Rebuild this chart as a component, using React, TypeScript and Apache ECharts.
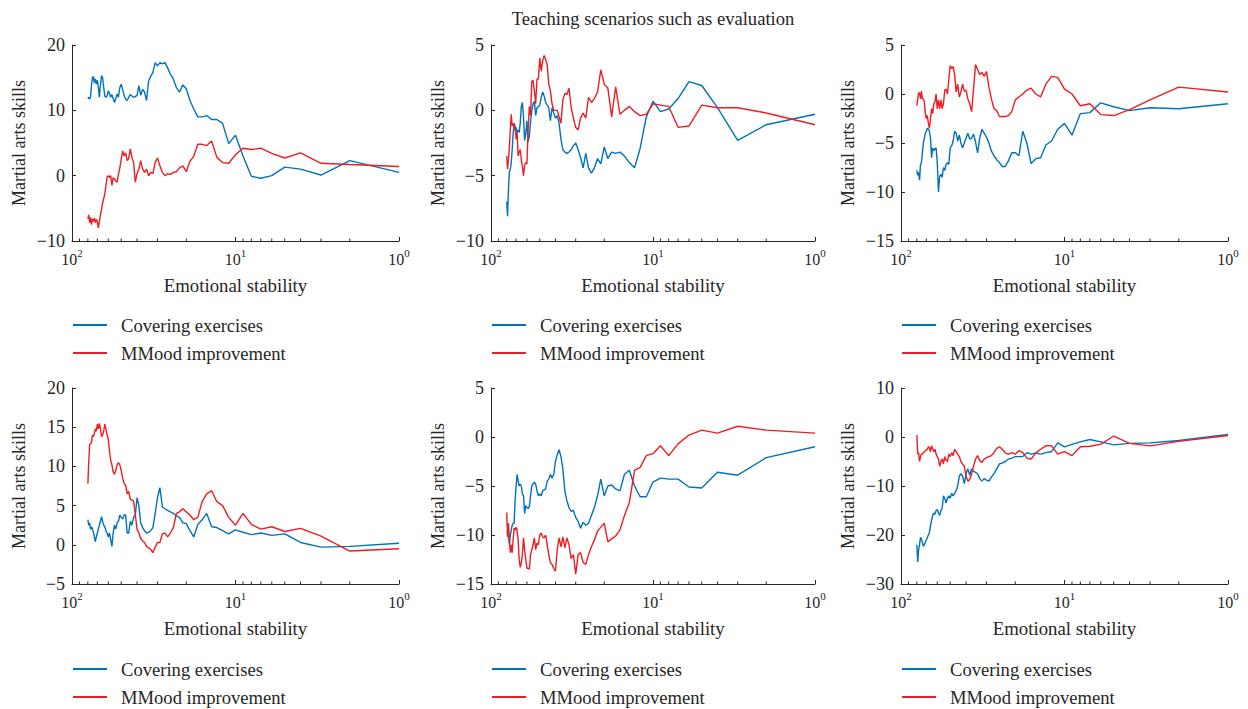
import React, { useEffect, useRef } from "react";
import * as echarts from "echarts";

const xValues = [
  80, 79, 78, 77, 76, 75, 74, 73, 72, 71,
  70, 69, 68, 67, 66, 65, 64, 63, 62, 61,
  60, 59, 58, 57, 56, 55, 54, 53, 52, 51,
  50, 49, 48, 47, 46, 45, 44, 43, 42, 41,
  40, 39, 38, 37, 36, 35, 34, 33, 32, 31,
  30, 29, 28, 27, 26, 25, 24, 23, 22, 21,
  20, 19, 18, 17, 16, 15, 14, 13, 12, 11,
  10, 9, 8, 7, 6, 5, 4, 3, 2, 1,
];

const blue1 = [
  11.8, 12.0, 11.7, 12.1, 13.8, 15.0, 15.2, 14.2, 14.8, 14.0,
  14.6, 13.5, 12.0, 13.8, 15.3, 15.0, 13.5, 12.2, 12.0, 12.2,
  13.0, 12.6, 12.0, 12.4, 11.8, 11.2, 11.8, 12.5, 12.0, 13.5,
  14.0, 13.2, 12.3, 11.7, 11.5, 12.0, 12.4, 12.2, 12.0, 12.1,
  12.3, 13.8, 12.3, 13.2, 12.8, 11.5, 14.5, 15.2, 15.8, 17.3,
  16.8, 17.3, 17.1, 17.3, 16.5, 15.5, 14.8, 13.5, 12.8, 13.9,
  13.3, 11.5, 10.2, 9.0, 9.0, 9.2, 8.6, 8.6, 8.0, 4.9,
  6.2, 3.0, -0.1, -0.4, 0.0, 1.3, 1.0, 0.1, 2.3, 0.5,
];
const red1 = [
  -6.6, -6.0, -7.2, -6.4, -7.5, -6.6, -7.0, -6.5, -7.2, -6.7,
  -7.0, -8.0, -7.0, -6.0, -5.2, -4.2, -3.5, -2.8, -1.5, -0.2,
  0.0, -0.3, 0.0, -1.5, -0.3, -0.5, -0.8, -1.0, 0.2, 1.2,
  2.5, 3.8, 3.0, 3.5, 2.3, 2.6, 4.1, 2.8, 2.0, -1.0,
  0.3, 1.0, 2.3, 1.0, 0.5, 1.0, 0.0, 0.5, 0.3, 2.0,
  2.7, 1.5, 0.5, 0.0, 0.3, 0.2, 0.5, 0.6, 1.2, 1.5,
  0.6, 2.2, 3.0, 4.8, 4.8, 4.6, 5.3, 2.8, 2.0, 1.9,
  3.2, 4.2, 4.0, 4.2, 3.4, 2.7, 3.5, 1.9, 1.7, 1.4,
];

const blue2 = [
  -7.0, -8.1, -6.0, -4.7, -4.5, -4.0, -3.0, -1.8, -1.0, -1.5,
  -1.3, -1.7, -1.5, -1.7, -1.0, 0.3, 0.6, -0.5, -2.3, -1.8,
  -0.8, -2.4, -2.0, -0.9, 0.0, 0.5, 0.7, -0.4, 0.2, 0.3,
  0.4, 1.0, 1.4, 1.1, 0.6, 0.4, 0.2, -0.8, 0.2, -0.2,
  -0.6, -0.4, -1.0, -2.2, -3.0, -3.2, -3.3, -3.2, -3.0, -2.7,
  -2.5, -3.0, -3.6, -4.4, -3.3, -4.4, -4.8, -4.4, -3.7, -4.1,
  -2.8, -3.7, -3.2, -3.3, -3.2, -3.5, -4.0, -4.4, -2.9, -0.5,
  0.7, -0.1, 0.1, 0.9, 2.2, 1.9, 0.2, -2.3, -1.1, -0.3,
];
const red2 = [
  -3.5, -4.5, -3.8, -2.8, -1.5, -0.3, -1.2, -1.1, -1.0, -1.2,
  -2.2, -1.7, -3.5, -3.2, -3.0, -3.8, -4.3, -5.0, -4.2, -4.0,
  -4.1, -1.5, 0.3, -0.4, 2.2, 2.3, 1.5, 0.5, 2.4, 2.4,
  4.0, 3.0, 3.8, 4.2, 3.9, 3.5, 2.0, 1.5, 0.5, 0.0,
  0.0, 0.0, -0.5, -1.0, 0.8, 1.3, 1.2, 1.7, 0.2, -0.6,
  -1.3, -1.5, -0.6, -0.2, -0.6, 1.0, 0.6, 0.9, 1.4, 3.1,
  2.0, 1.7, -0.5, 1.8, -0.3, 0.0, 0.3, -0.1, -0.4, -0.3,
  0.5, 0.4, 0.3, -1.3, -1.2, 0.4, 0.2, 0.2, -0.2, -1.1,
];

const blue3 = [
  -7.8, -8.3, -8.0, -8.8, -7.2, -7.0, -6.0, -5.0, -4.5, -4.0,
  -3.8, -3.5, -3.6, -3.8, -4.5, -6.5, -5.5, -5.8, -5.6, -5.5,
  -7.0, -10.0, -8.4, -8.2, -8.5, -7.5, -7.8, -7.2, -7.0, -7.2,
  -5.5, -5.3, -4.8, -3.8, -4.0, -4.8, -4.2, -5.0, -5.5, -5.0,
  -4.5, -4.0, -4.6, -4.5, -4.1, -4.9, -6.0, -4.5, -3.6, -4.0,
  -4.4, -5.0, -5.8, -6.3, -6.7, -7.0, -7.4, -7.4, -6.8, -6.0,
  -6.0, -6.3, -3.8, -5.0, -7.1, -6.6, -6.5, -5.2, -4.8, -3.6,
  -3.0, -4.2, -2.0, -1.9, -0.9, -1.3, -1.7, -1.4, -1.5, -1.0,
];
const red3 = [
  -1.2, -0.5, 0.1, 0.1, -0.5, 0.3, -0.5, -0.5, -0.8, -2.0,
  -2.5, -2.2, -3.0, -3.5, -2.5, -1.5, -2.0, -1.0, -0.8, 0.0,
  -1.5, -0.6, -1.5, -0.6, -1.5, -1.0, 0.4, 0.5, 0.0, 1.5,
  2.9, 2.6, 2.8, 2.0, 0.2, 1.0, -0.3, 0.2, 1.0, 0.3,
  0.4, -0.5, -1.0, -1.8, 0.5, 3.0, 2.5, 2.0, 2.2, 1.8,
  2.3, 0.7, -0.5, -1.5, -1.7, -2.3, -2.3, -2.3, -2.2, -1.8,
  -0.6, -0.3, 0.0, 0.4, 0.6, 0.0, -0.3, 1.0, 1.8, 1.7,
  0.5, 0.0, -1.2, -1.0, -2.1, -2.2, -1.6, -0.6, 0.7, 0.2,
];

const blue4 = [
  3.2, 2.5, 2.8, 2.0, 2.3, 2.0, 1.6, 1.0, 0.4, 1.0,
  1.5, 2.0, 2.5, 3.0, 3.6, 3.0, 2.5, 2.3, 1.8, 1.5,
  1.0, 1.5, 0.7, -0.2, 1.5, 2.5, 2.0, 2.8, 3.0, 3.8,
  3.5, 3.3, 3.8, 3.8, 1.5, 1.5, 3.0, 2.5, 3.5, 3.8,
  6.0, 5.0, 2.8, 2.2, 1.8, 1.5, 1.6, 1.8, 2.2, 4.0,
  6.0, 7.3, 4.8, 4.6, 4.4, 4.2, 4.0, 3.7, 3.5, 2.8,
  2.7, 1.8, 1.0, 2.6, 3.2, 4.0, 2.3, 2.2, 1.8, 1.4,
  1.9, 1.6, 1.3, 1.5, 1.2, 1.4, 0.3, -0.3, -0.2, 0.2,
];
const red4 = [
  7.8, 10.5, 12.8, 12.9, 13.0, 14.0, 13.8, 14.2, 14.8, 14.5,
  15.4, 14.8, 15.5, 14.8, 13.8, 14.0, 14.5, 15.4, 14.8, 14.0,
  13.5, 12.0, 10.8, 10.2, 9.3, 9.0, 9.5, 10.2, 10.5, 10.2,
  9.5, 8.5, 7.8, 7.6, 6.5, 6.8, 5.8, 5.7, 5.6, 3.8,
  2.0, 1.5, 0.8, 0.5, 0.3, -0.2, -0.4, -0.6, -1.0, -0.3,
  0.3, 0.3, 1.4, 1.5, 1.0, 1.5, 2.2, 4.0, 4.2, 4.6,
  4.2, 3.8, 3.2, 3.5, 5.5, 6.5, 6.9, 5.5, 5.0, 3.5,
  2.5, 4.0, 2.6, 2.0, 2.3, 1.7, 2.1, 1.1, -0.8, -0.5,
];

const blue5 = [
  -9.7, -9.8, -10.0, -11.0, -10.0, -9.5, -9.0, -8.8, -8.8, -6.5,
  -5.0, -3.8, -4.5, -5.0, -4.8, -5.0, -5.8, -6.0, -7.8, -7.0,
  -7.2, -7.3, -7.1, -6.0, -5.0, -4.8, -4.6, -4.8, -5.5, -6.0,
  -5.8, -6.0, -5.5, -5.4, -5.3, -4.5, -4.3, -3.8, -4.2, -3.8,
  -2.5, -1.8, -1.3, -2.0, -3.3, -5.5, -6.5, -7.2, -7.6, -7.5,
  -8.2, -8.6, -9.3, -8.7, -9.0, -8.8, -8.0, -7.2, -6.0, -4.3,
  -6.0, -5.0, -4.9, -5.3, -5.5, -3.8, -3.4, -5.0, -6.1, -6.1,
  -4.6, -4.2, -4.3, -4.3, -5.1, -5.2, -3.6, -3.9, -2.1, -1.0,
];
const red5 = [
  -7.7, -10.2, -8.8, -10.5, -11.8, -11.0, -11.8, -10.5, -9.3, -9.5,
  -9.2, -9.5, -10.5, -12.5, -13.3, -12.8, -12.0, -10.3, -11.5, -12.5,
  -13.4, -13.4, -13.5, -12.0, -11.5, -11.0, -10.3, -11.5, -10.8, -11.0,
  -10.0, -9.8, -10.2, -10.3, -10.0, -11.0, -12.0, -12.8, -13.0, -13.4,
  -13.7, -11.5, -10.3, -11.2, -10.2, -11.3, -10.3, -11.0, -12.4, -12.0,
  -14.0, -12.0, -11.8, -12.8, -13.0, -12.0, -11.2, -10.5, -9.6, -9.2,
  -8.8, -10.7, -10.4, -10.1, -9.5, -8.0, -6.7, -3.4, -3.1, -1.9,
  -1.7, -0.9, -1.9, -0.7, 0.2, 0.7, 0.4, 1.1, 0.7, 0.4,
];

const blue6 = [
  -22.0, -25.5, -23.0, -22.0, -20.5, -20.8, -21.5, -22.3, -22.0, -21.5,
  -21.0, -20.5, -20.0, -19.5, -18.0, -17.0, -16.0, -15.5, -15.8, -15.0,
  -14.8, -15.5, -16.0, -15.0, -14.5, -12.0, -12.5, -13.5, -12.5, -12.0,
  -12.5, -11.5, -12.0, -11.5, -11.0, -10.0, -8.0, -7.5, -8.0, -9.5,
  -7.5, -6.5, -7.8, -6.5, -7.0, -7.2, -7.5, -8.5, -9.0, -8.5,
  -8.8, -9.0, -8.2, -7.5, -6.5, -5.5, -5.3, -5.0, -4.5, -4.3,
  -4.0, -4.0, -4.0, -3.2, -3.5, -3.3, -3.5, -3.2, -3.0, -1.2,
  -2.0, -1.5, -1.0, -0.5, -1.0, -1.6, -1.3, -1.2, -0.7, 0.5,
];
const red6 = [
  0.4, -3.5, -3.2, -5.0, -4.0, -3.5, -3.5, -3.2, -3.0, -2.8,
  -2.7, -2.5, -2.0, -2.2, -3.0, -1.8, -2.5, -3.0, -2.5, -3.5,
  -4.0, -4.5, -6.0, -5.0, -4.5, -5.5, -4.0, -4.8, -5.0, -3.5,
  -4.0, -3.2, -3.8, -2.5, -3.0, -3.5, -4.0, -5.0, -5.5, -6.0,
  -8.0, -9.0, -8.7, -7.5, -6.0, -4.5, -3.8, -4.8, -5.2, -4.5,
  -4.2, -4.0, -3.8, -3.2, -2.3, -2.0, -2.5, -3.3, -3.5, -3.2,
  -3.5, -2.8, -3.2, -4.3, -4.5, -3.3, -2.5, -1.8, -1.8, -3.5,
  -3.0, -3.8, -2.0, -1.9, -1.5, 0.2, -1.3, -1.8, -0.9, 0.3,
];

const blueSeries = [blue1, blue2, blue3, blue4, blue5, blue6];
const redSeries = [red1, red2, red3, red4, red5, red6];

const yMins = [-10, -10, -15, -5, -15, -30];
const yMaxs = [20, 5, 5, 20, 5, 10];
const yIntervals = [10, 5, 5, 5, 5, 10];
const minorTickValues = [90, 80, 70, 60, 50, 40, 30, 20, 9, 8, 7, 6, 5, 4, 3, 2];

const seriesNames = ["Covering exercises", "MMood improvement"];
const titleText = "Teaching scenarios such as evaluation";
const xName = "Emotional stability";
const yName = "Martial arts skills";

const BLUE = "#0072BD";
const RED = "#EE1D23";
const INK = "#262626";
const FONT = "'Liberation Serif', 'Times New Roman', serif";

const grids = [
  { left: 72, top: 45, width: 327, height: 196 },
  { left: 491, top: 45, width: 324, height: 196 },
  { left: 901, top: 45, width: 327, height: 196 },
  { left: 72, top: 388, width: 327, height: 196 },
  { left: 491, top: 388, width: 324, height: 196 },
  { left: 901, top: 388, width: 327, height: 196 },
];
const legendTops = [315, 315, 315, 659, 659, 659];

function buildOption() {
  const xAxis = grids.map((_, i) => ({
    type: "log",
    logBase: 10,
    min: 1,
    max: 100,
    inverse: true,
    gridIndex: i,
    axisLine: { show: true, onZero: false, lineStyle: { color: INK, width: 1 } },
    axisTick: { show: true, inside: true, length: 4, lineStyle: { color: INK } },
    splitLine: { show: false },
    minorTick: { show: false },
    axisLabel: {
      margin: 6,
      color: INK,
      formatter: (v: number) => `{b|10}{s|${Math.round(Math.log10(v))}}`,
      rich: {
        b: { fontFamily: FONT, fontSize: 16, color: INK, lineHeight: 20, verticalAlign: "bottom" },
        s: { fontFamily: FONT, fontSize: 11, color: INK, lineHeight: 12, verticalAlign: "top" },
      },
    },
    name: xName,
    nameLocation: "middle",
    nameGap: 35,
    nameTextStyle: { fontFamily: FONT, fontSize: 18.8, color: INK },
  }));

  const yAxis = grids.map((_, i) => ({
    type: "value",
    gridIndex: i,
    min: yMins[i],
    max: yMaxs[i],
    interval: yIntervals[i],
    axisLine: { show: true, onZero: false, lineStyle: { color: INK, width: 1 } },
    axisTick: { show: true, inside: true, length: 4, lineStyle: { color: INK } },
    splitLine: { show: false },
    axisLabel: {
      margin: 7,
      color: INK,
      fontFamily: FONT,
      fontSize: 18,
      formatter: (v: number) => (v < 0 ? "\u2212" + Math.abs(v) : String(v)),
    },
    name: yName,
    nameLocation: "middle",
    nameGap: 44,
    nameTextStyle: { fontFamily: FONT, fontSize: 18, color: INK },
  }));

  const series: any[] = [];
  grids.forEach((_, i) => {
    series.push({
      type: "line",
      name: seriesNames[0],
      xAxisIndex: i,
      yAxisIndex: i,
      data: xValues.map((x, k) => [x, blueSeries[i][k]]),
      symbol: "none",
      showSymbol: false,
      lineStyle: { color: BLUE, width: 1.4 },
      itemStyle: { color: BLUE },
      z: 3,
    });
    series.push({
      type: "line",
      name: seriesNames[1],
      xAxisIndex: i,
      yAxisIndex: i,
      data: xValues.map((x, k) => [x, redSeries[i][k]]),
      symbol: "none",
      showSymbol: false,
      lineStyle: { color: RED, width: 1.4 },
      itemStyle: { color: RED },
      z: 4,
    });
    series.push({
      type: "custom",
      name: "minorTicks" + i,
      xAxisIndex: i,
      yAxisIndex: i,
      silent: true,
      clip: false,
      data: minorTickValues.map((v) => [v, yMins[i]]),
      encode: { x: 0, y: 1 },
      renderItem: (params: any, api: any) => {
        const p = api.coord([api.value(0), api.value(1)]);
        return {
          type: "line",
          shape: { x1: p[0], y1: p[1], x2: p[0], y2: p[1] - 2.5 },
          style: { stroke: INK, lineWidth: 1 },
        };
      },
      z: 2,
    });
  });

  const legend = grids.map((g, i) => ({
    orient: "vertical",
    left: g.left + 1,
    top: legendTops[i],
    height: 50,
    padding: 0,
    itemWidth: 34,
    itemHeight: 2,
    itemGap: 8,
    icon: "rect",
    selectedMode: false,
    data: seriesNames,
    textStyle: {
      fontFamily: FONT,
      fontSize: 18.6,
      color: INK,
      lineHeight: 20,
      padding: [0, 0, 0, 9],
    },
  }));

  return {
    animation: false,
    backgroundColor: "#ffffff",
    grid: grids.map((g) => ({ ...g, containLabel: false })),
    xAxis,
    yAxis,
    legend,
    series,
    graphic: [
      {
        type: "text",
        x: 653,
        y: 18,
        style: {
          text: titleText,
          fontFamily: FONT,
          fontSize: 18.6,
          fill: INK,
          align: "center",
          verticalAlign: "middle",
        },
      },
    ],
  };
}

export default function App() {
  const ref = useRef<HTMLDivElement>(null);
  useEffect(() => {
    if (!ref.current) return;
    const chart = echarts.init(ref.current, undefined, { renderer: "svg" });
    chart.setOption(buildOption() as any);
    return () => chart.dispose();
  }, []);
  return (
    <div
      ref={ref}
      style={{ position: "fixed", left: 0, top: 0, width: 1248, height: 709, background: "#fff" }}
    />
  );
}
